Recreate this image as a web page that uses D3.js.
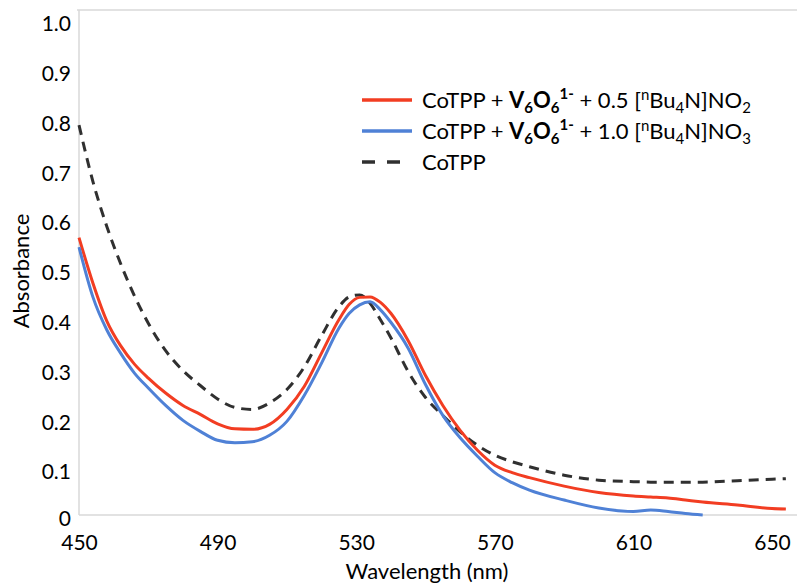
<!DOCTYPE html>
<html>
<head>
<meta charset="utf-8">
<script src="https://cdn.jsdelivr.net/npm/d3@7"></script>
<style>
  body { margin: 0; background: #fff; }
  svg text { font-family: Lato, "Open Sans", sans-serif; fill: #000; }
</style>
</head>
<body>
<svg id="chart"></svg>
<script>
// wavelength grid (nm)
const wavelengths = [450,454,458,462,466,470,475,480,485,490,495,500,505,510,515,520,525,528,531,534,537,540,545,550,555,560,565,570,575,580,590,600,610,615,620,625,630,640,650,654];

// CoTPP + V6O6 + 0.5 [nBu4N]NO2
const redSeries = [0.557,0.466,0.39,0.34,0.303,0.275,0.245,0.22,0.202,0.183,0.173,0.172,0.182,0.212,0.258,0.325,0.392,0.423,0.437,0.438,0.427,0.405,0.35,0.28,0.22,0.17,0.13,0.1,0.085,0.075,0.058,0.045,0.038,0.036,0.034,0.03,0.026,0.02,0.013,0.012];

// CoTPP + V6O6 + 1.0 [nBu4N]NO3
const blueSeries = [0.538,0.438,0.372,0.325,0.285,0.255,0.22,0.19,0.168,0.15,0.145,0.147,0.16,0.188,0.24,0.305,0.375,0.405,0.422,0.428,0.412,0.387,0.335,0.262,0.2,0.155,0.118,0.085,0.065,0.05,0.03,0.014,0.007,0.01,0.007,0.003,0,null,null,null];

// CoTPP
const blackSeries = [0.783,0.67,0.58,0.505,0.44,0.385,0.33,0.29,0.26,0.233,0.216,0.212,0.225,0.252,0.297,0.36,0.418,0.438,0.442,0.425,0.392,0.356,0.288,0.236,0.2,0.167,0.14,0.12,0.107,0.097,0.08,0.07,0.067,0.066,0.066,0.066,0.066,0.069,0.072,0.073];

const xTicks = [450,490,530,570,610,650];
const yTicks = [0,0.1,0.2,0.3,0.4,0.5,0.6,0.7,0.8,0.9,1.0];

const W = 797, H = 584;
const svg = d3.select("#chart").attr("width", W).attr("height", H);

const x = d3.scaleLinear().domain([450, 650]).range([79, 772]);
const y = d3.scaleLinear().domain([0, 1]).range([515, 17]);

// plot frame lines
svg.append("line").attr("x1", 79).attr("x2", 79).attr("y1", 10).attr("y2", 515)
  .attr("stroke", "#d9d9d9").attr("stroke-width", 1.5);
svg.append("line").attr("x1", 79).attr("x2", W).attr("y1", 515).attr("y2", 515)
  .attr("stroke", "#d9d9d9").attr("stroke-width", 1.5);
svg.append("line").attr("x1", 77).attr("x2", W).attr("y1", 10).attr("y2", 10)
  .attr("stroke", "#d9d9d9").attr("stroke-width", 1.5);

// axes, labels only
const yAxis = d3.axisLeft(y).tickValues(yTicks).tickSize(0).tickPadding(8)
  .tickFormat(d => d === 0 ? "0" : d3.format(".1f")(d));
svg.append("g").attr("transform", "translate(79,7)").call(yAxis)
  .call(g => g.select(".domain").remove())
  .selectAll("text").style("font-size", "21px")
  .attr("y", d => d === 0 ? -3 : 0);

const xAxis = d3.axisBottom(x).tickValues(xTicks).tickSize(0).tickPadding(20)
  .tickFormat(d3.format("d"));
svg.append("g").attr("transform", "translate(0,515)").call(xAxis)
  .call(g => g.select(".domain").remove())
  .selectAll("text").style("font-size", "21px");

// axis titles
svg.append("text").attr("x", 427).attr("y", 579).attr("text-anchor", "middle")
  .style("font-size", "22px").text("Wavelength (nm)");
svg.append("text").attr("transform", "translate(29,271) rotate(-90)")
  .attr("text-anchor", "middle").style("font-size", "22px").text("Absorbance");

// series
const series = [
  { values: blackSeries, color: "#303030", dash: "10,7" },
  { values: redSeries, color: "#f23d22", dash: null },
  { values: blueSeries, color: "#4f81d6", dash: null }
];

const line = d3.line()
  .defined(d => d[1] !== null)
  .x(d => x(d[0]))
  .y(d => y(d[1]))
  .curve(d3.curveMonotoneX);

svg.selectAll(".series")
  .data(series)
  .enter().append("path")
  .attr("class", "series")
  .attr("fill", "none")
  .attr("stroke", d => d.color)
  .attr("stroke-width", 3)
  .attr("stroke-dasharray", d => d.dash)
  .attr("d", d => line(wavelengths.map((w, i) => [w, d.values[i]])));

// legend
const legend = svg.append("g").style("font-size", "22px");
const rows = [
  { color: "#f23d22", dash: null, yy: 100, reagent: "0.5", anion: "2" },
  { color: "#4f81d6", dash: null, yy: 131, reagent: "1.0", anion: "3" },
  { color: "#303030", dash: "13,12", yy: 162 }
];
rows.forEach(r => {
  legend.append("line").attr("x1", 362).attr("x2", 412).attr("y1", r.yy).attr("y2", r.yy)
    .attr("stroke", r.color).attr("stroke-width", 3.5).attr("stroke-dasharray", r.dash);
  const t = legend.append("text").attr("x", 422).attr("y", r.yy + 8);
  if (!r.reagent) { t.text("CoTPP"); return; }
  t.append("tspan").text("CoTPP + ");
  t.append("tspan").attr("font-weight", "bold").text("V");
  t.append("tspan").attr("font-weight", "bold").attr("dy", 5).style("font-size", "15px").text("6");
  t.append("tspan").attr("font-weight", "bold").attr("dy", -5).text("O");
  t.append("tspan").attr("font-weight", "bold").attr("dy", 5).style("font-size", "15px").text("6");
  t.append("tspan").attr("font-weight", "bold").attr("dy", -14).style("font-size", "15px").text("1-");
  t.append("tspan").attr("dy", 9).text(" + " + r.reagent + " [");
  t.append("tspan").attr("dy", -8).style("font-size", "15px").text("n");
  t.append("tspan").attr("dy", 8).text("Bu");
  t.append("tspan").attr("dy", 5).style("font-size", "15px").text("4");
  t.append("tspan").attr("dy", -5).text("N]NO");
  t.append("tspan").attr("dy", 5).style("font-size", "15px").text(r.anion);
});
</script>
</body>
</html>
